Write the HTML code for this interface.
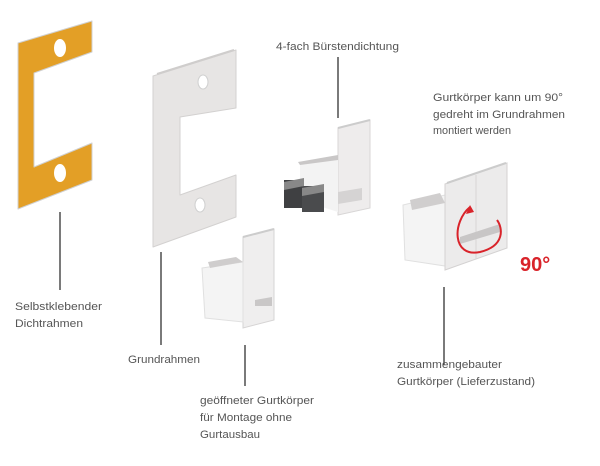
<!DOCTYPE html>
<html><head><meta charset="utf-8"><style>
html,body{margin:0;padding:0;background:#fff;}
svg{display:block}
text{font-family:"Liberation Sans",sans-serif;font-size:11px;fill:#555;}
</style></head><body>
<svg width="600" height="466" viewBox="0 0 600 466" xmlns="http://www.w3.org/2000/svg">
<path d="M18 43 L92 21 L92 52 L34 73 L34 167 L92 143 L92 180 L18 209 Z" fill="#e39f26" stroke="#d0d0d0" stroke-width="1" stroke-linejoin="round"/>
<ellipse cx="60" cy="48" rx="6" ry="9" fill="#fff"/>
<ellipse cx="60" cy="173" rx="6" ry="9" fill="#fff"/>
<path d="M153 76 L236 50 L236 108 L180 117 L180 195 L236 175 L236 217 L153 247 Z" fill="#e7e5e4" stroke="#d3d1d0" stroke-linejoin="round"/>
<path d="M157 74 L234 50" stroke="#cfcdcc" stroke-width="2"/>
<ellipse cx="203" cy="82" rx="5" ry="7" fill="#fff" stroke="#d0d0d0"/>
<ellipse cx="200" cy="205" rx="5" ry="7" fill="#fff" stroke="#d0d0d0"/>
<path d="M338 128 L370 120 L370 208 L338 215 Z" fill="#eeecec" stroke="#d8d6d6"/>
<path d="M338 128 L370 120" stroke="#ccc" stroke-width="2"/>
<path d="M298 162 L338 155 L338 176 L310 180 Z" fill="#c9c7c7"/>
<path d="M300 165 L300 200 L338 212 L338 160 Z" fill="#f3f3f3"/>
<path d="M338 192 L362 188 L362 200 L338 204 Z" fill="#d5d3d3"/>
<rect x="284" y="180" width="20" height="28" fill="#3f4042"/>
<rect x="302" y="186" width="22" height="26" fill="#4a4b4d"/>
<path d="M284 182 L304 178 L304 186 L284 190 Z" fill="#888"/>
<path d="M302 188 L324 184 L324 192 L302 196 Z" fill="#888"/>
<path d="M243 237 L274 229 L274 320 L243 328 Z" fill="#efeeee" stroke="#d6d4d4"/>
<path d="M243 237 L274 229" stroke="#ccc" stroke-width="2"/>
<path d="M202 268 L243 262 L243 322 L205 318 Z" fill="#f4f4f4" stroke="#e0e0e0"/>
<path d="M208 262 L236 257 L243 262 L210 268 Z" fill="#cfcdcd"/>
<path d="M255 300 L272 297 L272 306 L255 306 Z" fill="#c9c7c7"/>
<path d="M403 205 L445 195 L445 266 L405 260 Z" fill="#f4f4f4" stroke="#e0e0e0"/>
<path d="M410 200 L440 193 L445 203 L412 210 Z" fill="#d0cece"/>
<path d="M445 184 L507 163 L507 248 L445 270 Z" fill="#ecebeb" stroke="#d4d2d2"/>
<path d="M447 183 L506 163" stroke="#ccc" stroke-width="2"/>
<line x1="476" y1="175" x2="476" y2="259" stroke="#d8d6d6"/>
<path d="M460 237 L500 224 L500 232 L460 244 Z" fill="#c8c6c6"/>
<path d="M470 207 C452 222 452 258 480 252 C505 246 503 228 497 220" fill="none" stroke="#d9232a" stroke-width="2"/>
<path d="M470 205 L466 214 L474 212 Z" fill="#d9232a"/>
<text x="520" y="271" style="font-size:20px;font-weight:bold;fill:#d9232a">90°</text>
<g stroke="#222" stroke-width="1.2">
<line x1="60" y1="212" x2="60" y2="290"/>
<line x1="161" y1="252" x2="161" y2="345"/>
<line x1="338" y1="57" x2="338" y2="118"/>
<line x1="245" y1="345" x2="245" y2="386"/>
<line x1="444" y1="287" x2="444" y2="365"/>
</g>
<text x="276" y="50" textLength="123" lengthAdjust="spacingAndGlyphs">4-fach Bürstendichtung</text>
<text x="433" y="101" textLength="130" lengthAdjust="spacingAndGlyphs">Gurtkörper kann um 90°</text>
<text x="433" y="118" textLength="132" lengthAdjust="spacingAndGlyphs">gedreht im Grundrahmen</text>
<text x="433" y="134" textLength="78" lengthAdjust="spacingAndGlyphs">montiert werden</text>
<text x="15" y="310" textLength="87" lengthAdjust="spacingAndGlyphs">Selbstklebender</text>
<text x="15" y="327" textLength="68" lengthAdjust="spacingAndGlyphs">Dichtrahmen</text>
<text x="128" y="363" textLength="72" lengthAdjust="spacingAndGlyphs">Grundrahmen</text>
<text x="200" y="404" textLength="114" lengthAdjust="spacingAndGlyphs">geöffneter Gurtkörper</text>
<text x="200" y="421" textLength="92" lengthAdjust="spacingAndGlyphs">für Montage ohne</text>
<text x="200" y="438" textLength="60" lengthAdjust="spacingAndGlyphs">Gurtausbau</text>
<text x="397" y="368" textLength="105" lengthAdjust="spacingAndGlyphs">zusammengebauter</text>
<text x="397" y="385" textLength="138" lengthAdjust="spacingAndGlyphs">Gurtkörper (Lieferzustand)</text>
</svg>
</body></html>
